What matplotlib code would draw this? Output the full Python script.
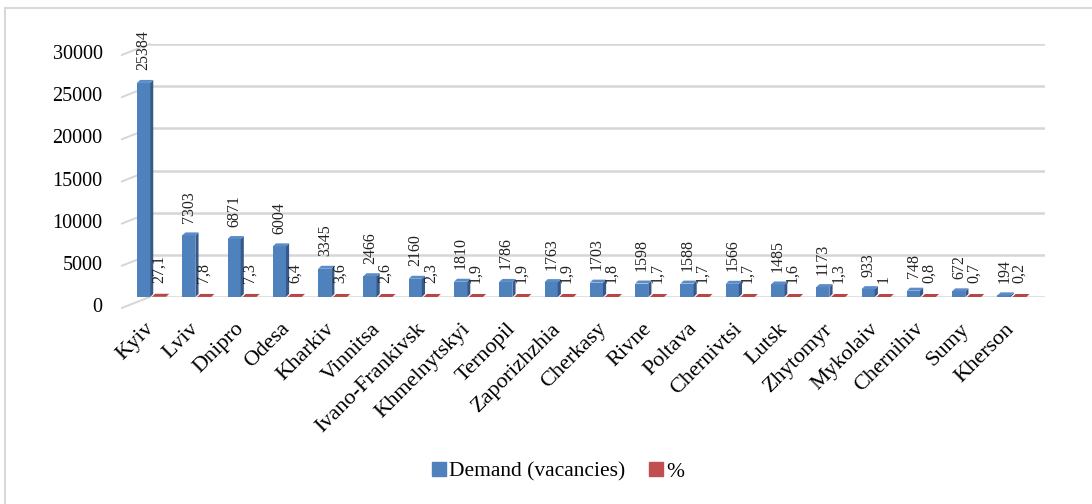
import numpy as np
import matplotlib
matplotlib.use('Agg')
import matplotlib.pyplot as plt
import matplotlib.transforms as mtransforms
from matplotlib.lines import Line2D
from matplotlib.patches import Patch

plt.rcParams['font.family'] = ['Liberation Serif', 'DejaVu Serif']

# Regional labour-market data
regions = ['Kyiv', 'Lviv', 'Dnipro', 'Odesa', 'Kharkiv', 'Vinnitsa', 'Ivano-Frankivsk',
           'Khmelnytskyi', 'Ternopil', 'Zaporizhzhia', 'Cherkasy', 'Rivne', 'Poltava',
           'Chernivtsi', 'Lutsk', 'Zhytomyr', 'Mykolaiv', 'Chernihiv', 'Sumy', 'Kherson']
vacancies = [25384, 7303, 6871, 6004, 3345, 2466, 2160, 1810, 1786, 1763,
             1703, 1598, 1588, 1566, 1485, 1173, 933, 748, 672, 194]
shares = [27.1, 7.8, 7.3, 6.4, 3.6, 2.6, 2.3, 1.9, 1.9, 1.9,
          1.8, 1.7, 1.7, 1.7, 1.6, 1.3, 1.0, 0.8, 0.7, 0.2]
yticks = [0, 5000, 10000, 15000, 20000, 25000, 30000]

BLUE, BLUE_SIDE, BLUE_TOP = '#4F81BD', '#34598A', '#5B8CC8'
RED, RED_SIDE, RED_TOP = '#C0504D', '#8E3331', '#B64744'

fig = plt.figure(figsize=(10.92, 5.04), dpi=100)
ax = fig.add_axes([122 / 1092, 1 - 297 / 504, 923 / 1092, 253 / 504])
ax.set_xlim(-0.64, 19.74)
ax.set_ylim(0, 30000)

# depth of the fake 3d faces, in data units
dx = 0.07
dy = 3 / 253 * 30000


def bar3d(x0, w, h, front, side, top):
    ax.fill([x0, x0 + w, x0 + w, x0], [0, 0, h, h], color=front, lw=0, zorder=3)
    ax.fill([x0 + w, x0 + w + dx, x0 + w + dx, x0 + w], [0, dy, h + dy, h],
            color=side, lw=0, zorder=3)
    ax.fill([x0, x0 + w, x0 + w + dx, x0 + dx], [h, h, h + dy, h + dy],
            color=top, lw=0, zorder=3)


idx = np.arange(len(regions))
bw = 0.29
for i in idx:
    bar3d(i - 0.31, bw, vacancies[i], BLUE, BLUE_SIDE, BLUE_TOP)
    bar3d(i + 0.02, bw + 0.02, shares[i], RED, RED_SIDE, RED_TOP)

    ax.annotate(str(vacancies[i]), xy=(i - 0.16, vacancies[i]), xytext=(0, 9),
                textcoords='offset points', rotation=90, ha='center', va='bottom',
                fontsize=11.5, color='#222222', zorder=5)
    pct = f'{shares[i]:g}'.replace('.', ',')
    ax.annotate(pct, xy=(i + 0.17, shares[i]), xytext=(0, 10),
                textcoords='offset points', rotation=90, ha='center', va='bottom',
                fontsize=11.5, color='#222222', zorder=5)

# back-wall gridlines with a slanted floor edge on the left
for t in yticks:
    ax.axhline(t, xmin=0.03, xmax=1, color='#d6d6d6', lw=1.8, zorder=1)
    ax.annotate('', xy=(0.03, t), xycoords=('axes fraction', 'data'),
                xytext=(-28, -11), textcoords='offset pixels',
                arrowprops=dict(arrowstyle='-', color='#d6d6d6', lw=1.4,
                                shrinkA=0, shrinkB=0), zorder=1)

for s in ax.spines.values():
    s.set_visible(False)

ax.set_yticks(yticks)
ax.set_yticklabels([str(t) for t in yticks], fontsize=14.5)
ax.tick_params(axis='y', length=0, pad=14)
down = mtransforms.ScaledTranslation(0, -8 / 100, fig.dpi_scale_trans)
for lab in ax.get_yticklabels():
    lab.set_transform(lab.get_transform() + down)

ax.set_xticks(idx)
ax.set_xticklabels(regions, fontsize=16, rotation=45, ha='right',
                   rotation_mode='anchor', va='center')
ax.tick_params(axis='x', length=0, pad=21)

handles = [Patch(color=BLUE), Patch(color=RED)]
fig.legend(handles, ['Demand (vacancies)', '%'], loc='center',
           bbox_to_anchor=(558 / 1092, 1 - 472 / 504), ncol=2, frameon=False,
           fontsize=15.5, handlelength=0.65, handleheight=0.65, handletextpad=0.15,
           columnspacing=1.1)

# light frame of the chart area
fig.add_artist(Line2D([5 / 1092, 1], [1 - 8 / 504, 1 - 8 / 504],
                      transform=fig.transFigure, color='#d9d9d9', lw=1.5))
fig.add_artist(Line2D([5 / 1092, 5 / 1092], [0, 1 - 8 / 504],
                      transform=fig.transFigure, color='#d9d9d9', lw=1.5))

fig.savefig('out.png', dpi=100, facecolor='white')
